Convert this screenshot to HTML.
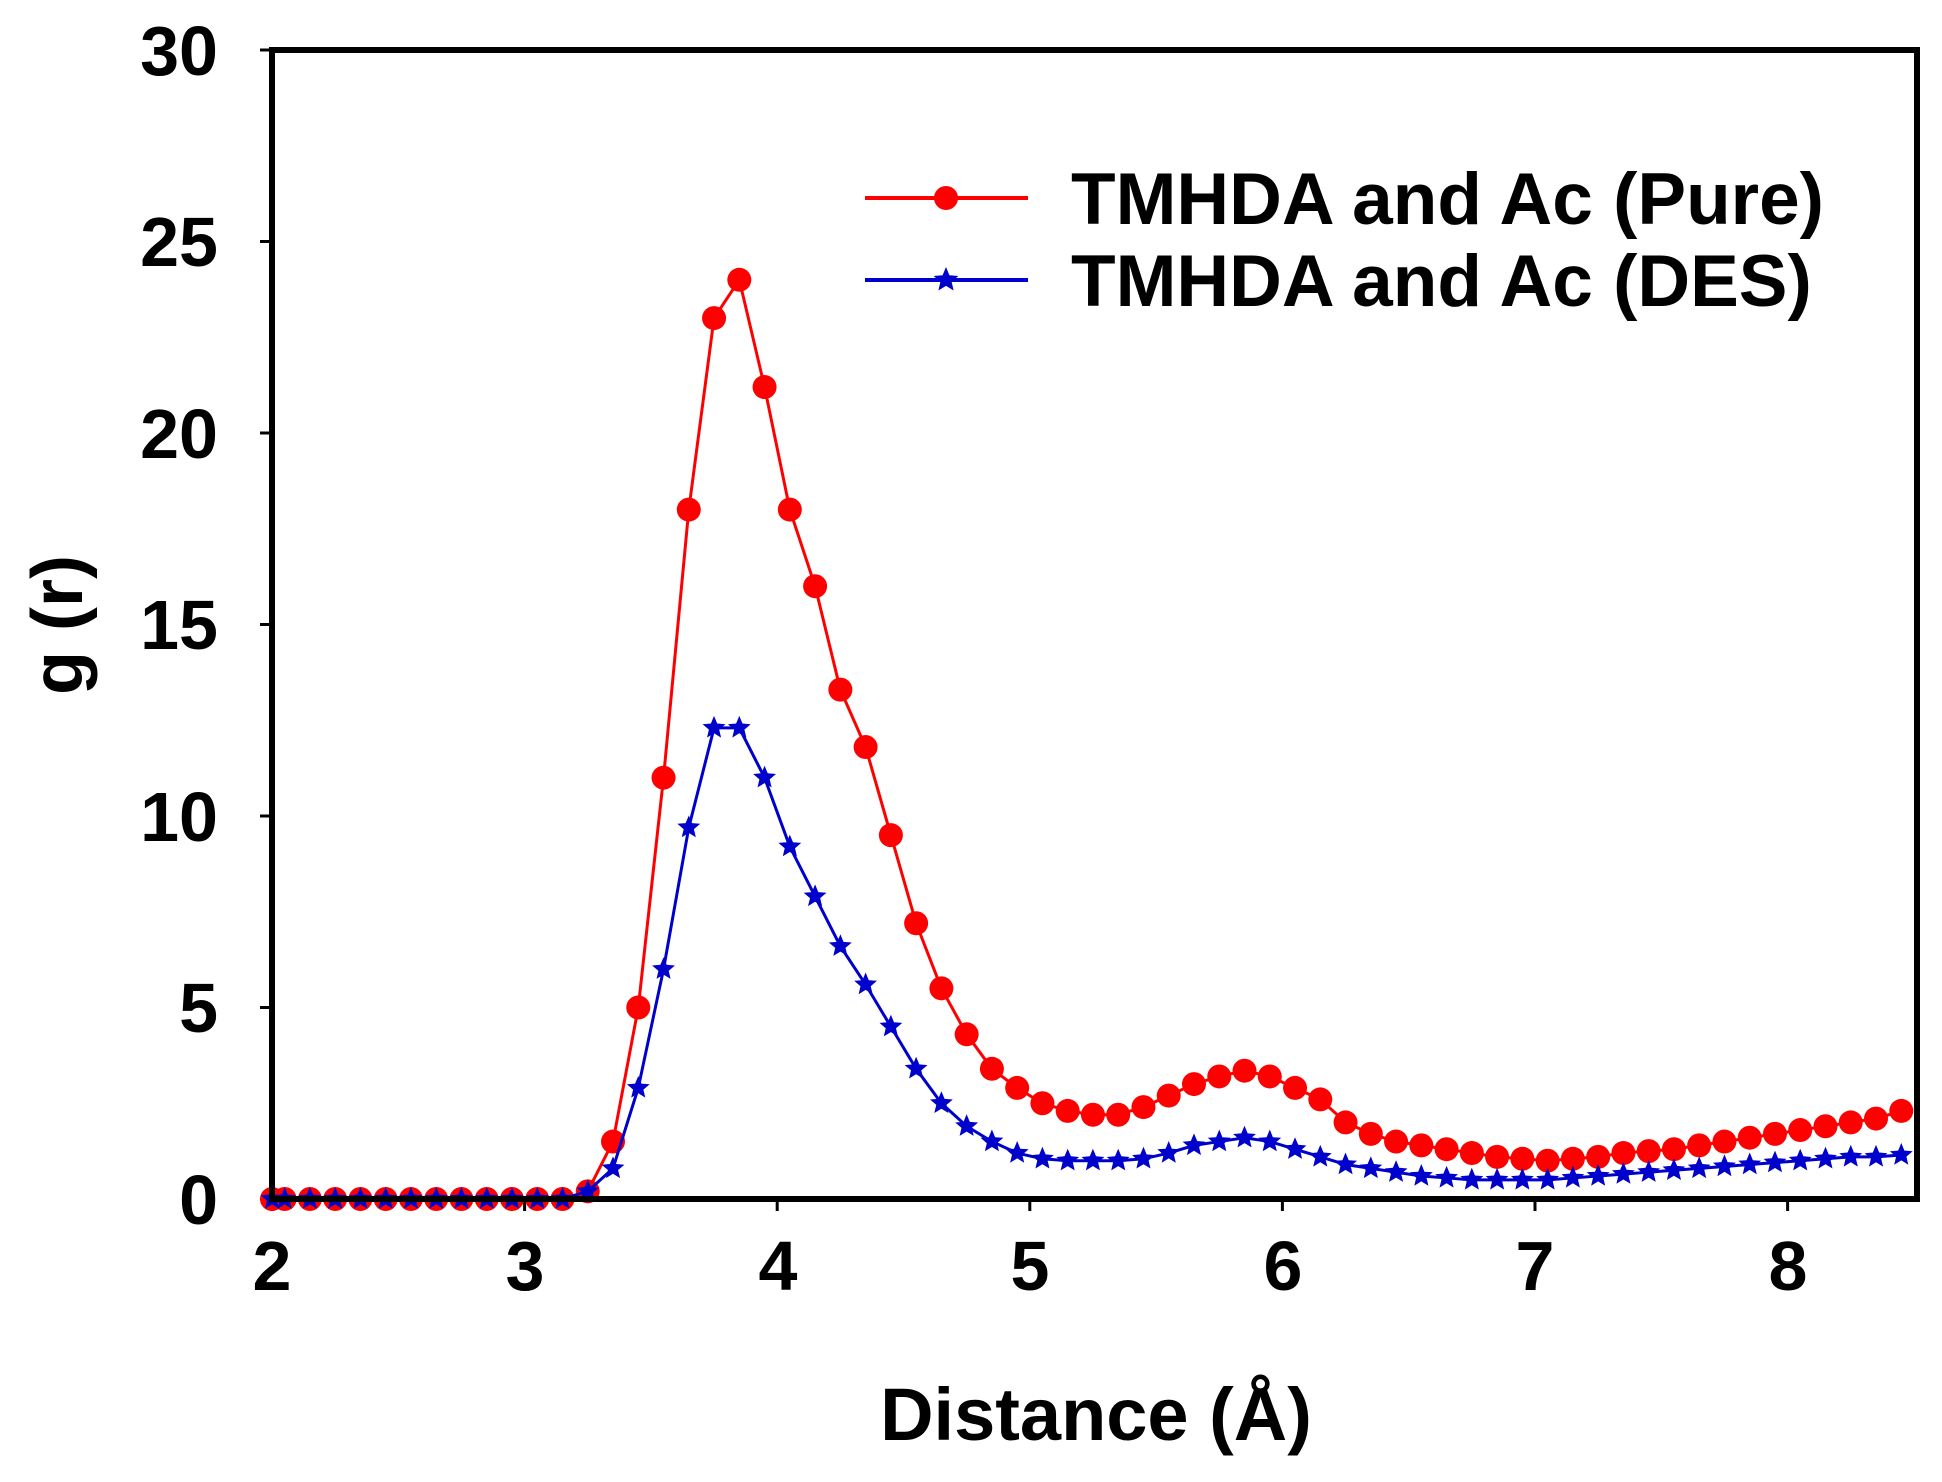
<!DOCTYPE html>
<html><head><meta charset="utf-8"><style>
html,body{margin:0;padding:0;background:#fff;}
svg text{font-family:"Liberation Sans",Arial,sans-serif;font-weight:bold;fill:#000;}
</style></head><body>
<svg id="s" width="1942" height="1477" xmlns="http://www.w3.org/2000/svg">
<rect width="1942" height="1477" fill="#fff"/>
<g id="plot"></g>
<rect x="272" y="50" width="1645" height="1149" fill="none" stroke="#000" stroke-width="6"/>
<g font-size="70" text-anchor="end">
<text x="218" y="1224">0</text><text x="218" y="1032">5</text><text x="218" y="841">10</text>
<text x="218" y="649">15</text><text x="218" y="458">20</text><text x="218" y="266">25</text><text x="218" y="75">30</text>
</g>
<g font-size="70" text-anchor="middle">
<text x="272" y="1290">2</text><text x="525" y="1290">3</text><text x="778" y="1290">4</text>
<text x="1030" y="1290">5</text><text x="1283" y="1290">6</text><text x="1535" y="1290">7</text><text x="1788" y="1290">8</text>
</g>
<text x="1096" y="1440" font-size="74" text-anchor="middle">Distance (Å)</text>
<text transform="translate(82,625) rotate(-90)" font-size="72" text-anchor="middle">g (r)</text>
<line x1="865" y1="198" x2="1028" y2="198" stroke="#f00" stroke-width="4"/>
<circle cx="946" cy="198" r="12" fill="#f00"/>
<line x1="865" y1="280" x2="1028" y2="280" stroke="#00c" stroke-width="4"/>
<polygon id="lstar" fill="#00c"/>
<text x="1071" y="224" font-size="73">TMHDA and Ac (Pure)</text>
<text x="1071" y="306" font-size="73">TMHDA and Ac (DES)</text>
</svg>
<script>
var red={3.35:1.5,3.45:5,3.55:11,3.65:18,3.75:23,3.85:24,3.95:21.2,4.05:18,4.15:16,4.25:13.3,4.35:11.8,4.45:9.5,4.55:7.2,4.65:5.5,4.75:4.3,4.85:3.4,4.95:2.9,5.05:2.5,5.15:2.3,5.25:2.2,5.35:2.2,5.45:2.4,5.55:2.7,5.65:3.0,5.75:3.2,5.85:3.35,5.95:3.2,6.05:2.9,6.15:2.6,6.25:2.0,6.35:1.7,6.45:1.5,6.55:1.4,6.65:1.3,6.75:1.2,6.85:1.1,6.95:1.05,7.05:1.0,7.15:1.05,7.25:1.1,7.35:1.2,7.45:1.25,7.55:1.3,7.65:1.4,7.75:1.5,7.85:1.6,7.95:1.7,8.05:1.8,8.15:1.9,8.25:2.0,8.35:2.1,8.45:2.3,3.25:0.2};
var blue={3.25:0.2,3.35:0.8,3.45:2.9,3.55:6,3.65:9.7,3.75:12.3,3.85:12.3,3.95:11,4.05:9.2,4.15:7.9,4.25:6.6,4.35:5.6,4.45:4.5,4.55:3.4,4.65:2.5,4.75:1.9,4.85:1.5,4.95:1.2,5.05:1.05,5.15:1.0,5.25:1.0,5.35:1.0,5.45:1.05,5.55:1.2,5.65:1.4,5.75:1.5,5.85:1.6,5.95:1.5,6.05:1.3,6.15:1.1,6.25:0.9,6.35:0.8,6.45:0.7,6.55:0.6,6.65:0.55,6.75:0.5,6.85:0.5,6.95:0.5,7.05:0.5,7.15:0.55,7.25:0.6,7.35:0.65,7.45:0.7,7.55:0.75,7.65:0.8,7.75:0.85,7.85:0.9,7.95:0.95,8.05:1.0,8.15:1.05,8.25:1.1,8.35:1.1,8.45:1.15};
function X(v){return 272+(v-2)*252.6;}function Y(v){return 1199-v/30*1149;}
function pts(d){var a=[];for(var i=0;i<=64;i++){var x=+(2.05+i*0.1).toFixed(2);var y=d[x.toFixed(2)]!==undefined?d[x.toFixed(2)]:(d[x]!==undefined?d[x]:0);a.push([X(x),Y(y)]);}a.unshift([X(2.0),Y(0)]);return a;}
function star(cx,cy,R){var r=R*0.45,p=[];for(var i=0;i<10;i++){var a=-Math.PI/2+i*Math.PI/5,rr=i%2?r:R;p.push((cx+rr*Math.cos(a)).toFixed(1)+","+(cy+rr*Math.sin(a)).toFixed(1));}return p.join(" ");}
var g=document.getElementById("plot"),h="";
for(var v=0;v<=30;v+=5)h+='<line x1="260" x2="272" y1="'+Y(v)+'" y2="'+Y(v)+'" stroke="#000" stroke-width="3"/>';
for(var v=2;v<=8;v++)h+='<line y1="1199" y2="1211" x1="'+X(v)+'" x2="'+X(v)+'" stroke="#000" stroke-width="3"/>';
var R=pts(red),B=pts(blue);
h+='<polyline fill="none" stroke="#f00" stroke-width="3" points="'+R.map(function(p){return p.join(",")}).join(" ")+'"/>';
R.forEach(function(p){h+='<circle cx="'+p[0]+'" cy="'+p[1]+'" r="12" fill="#f00"/>';});
h+='<polyline fill="none" stroke="#00c" stroke-width="3" points="'+B.map(function(p){return p.join(",")}).join(" ")+'"/>';
B.forEach(function(p){h+='<polygon fill="#00c" points="'+star(p[0],p[1],12)+'"/>';});
g.innerHTML=h;
document.getElementById("lstar").setAttribute("points",star(946,280,13));
</script>
</body></html>
